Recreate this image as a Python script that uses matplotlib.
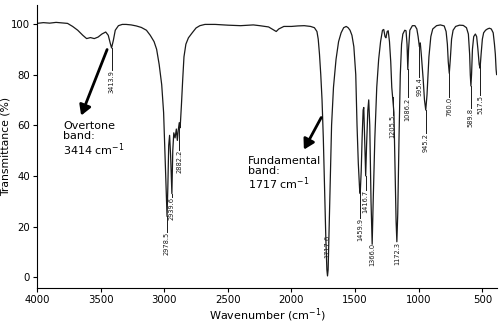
import matplotlib
matplotlib.use("Agg")
import matplotlib.pyplot as plt
import numpy as np

# IR spectrum (wavenumber cm-1, transmittance %)
wavenumber = [
    4000, 3950, 3900, 3850, 3800, 3760, 3720, 3680, 3640, 3610, 3580, 3550,
    3520, 3490, 3460, 3440, 3425, 3414, 3400, 3385, 3360, 3330, 3300, 3260,
    3220, 3180, 3140, 3110, 3080, 3060, 3040, 3020, 3005, 2995, 2985, 2978,
    2972, 2965, 2958, 2950, 2940, 2933, 2925, 2915, 2905, 2897, 2890, 2882,
    2875, 2865, 2855, 2845, 2830, 2810, 2780, 2750, 2720, 2680, 2600, 2500,
    2400, 2300, 2250, 2180, 2140, 2120, 2100, 2060, 2000, 1950, 1900, 1850,
    1820, 1800, 1790, 1780, 1770, 1760, 1750, 1740, 1730, 1722, 1717, 1712,
    1705, 1695, 1685, 1670, 1650, 1630, 1610, 1590, 1570, 1555, 1540, 1525,
    1510, 1495, 1485, 1475, 1465, 1460, 1452, 1445, 1437, 1432, 1425, 1417,
    1410, 1400, 1393, 1385, 1375, 1366, 1358, 1345, 1330, 1315, 1300, 1285,
    1275, 1265, 1258, 1248, 1240, 1230, 1220, 1212, 1205, 1195, 1185, 1178,
    1172, 1165, 1155, 1145, 1135, 1125, 1110, 1100, 1092, 1086, 1080, 1070,
    1050, 1030, 1015, 1005, 995, 988, 980, 965, 955, 945, 935, 920,
    905, 890, 860, 830, 800, 785, 775, 768, 760, 752, 742, 730,
    710, 680, 650, 625, 610, 600, 595, 590, 585, 578, 568, 555,
    545, 535, 525, 518, 510, 500, 490, 475, 460, 445, 430, 415,
    405, 398, 392, 388,
]
transmittance = [
    100.2, 100.5, 100.3, 100.6, 100.4, 100.2, 99.0, 97.5, 95.5, 94.2, 94.6, 94.2,
    94.8, 96.0, 96.8, 95.5, 92.5, 90.5, 93.5, 97.5, 99.3, 99.8, 99.8, 99.6,
    99.2, 98.6, 97.5, 95.5, 93.0, 90.0, 84.0, 76.0, 65.0, 50.0, 35.0, 24.0,
    35.0, 52.0, 56.0, 48.0, 33.0, 50.0, 57.0, 55.0, 58.5, 54.0, 58.0, 61.0,
    59.0, 68.0, 78.0, 87.0, 92.0, 94.5, 96.5, 98.4, 99.3, 99.8, 99.8, 99.5,
    99.3, 99.6, 99.3, 98.8, 97.6, 97.0, 98.0, 99.0, 99.0, 99.2, 99.3, 99.0,
    98.5, 97.0, 94.0, 88.0, 80.0, 70.0, 55.0, 35.0, 15.0, 3.0, 0.5, 3.0,
    18.0, 40.0, 60.0, 75.0, 86.0, 93.0, 96.5, 98.5, 99.0, 98.5, 97.5, 95.5,
    91.0, 80.0, 60.0, 45.0, 35.0, 33.0, 42.0, 55.0, 66.0, 67.0, 55.0, 40.0,
    52.0, 66.0, 70.0, 60.0, 30.0, 13.0, 30.0, 55.0, 75.0, 86.0, 93.0, 97.5,
    97.8, 95.0, 94.5, 97.0, 97.3, 93.0, 85.0, 75.0, 71.0, 65.0, 40.0, 22.0,
    14.0, 25.0, 55.0, 80.0, 92.0, 96.0, 97.5, 97.3, 92.0, 82.0, 90.0, 97.5,
    99.3, 99.3, 98.0, 95.0, 91.0, 92.5, 88.0, 78.0, 70.0, 66.0, 72.0, 87.0,
    95.0, 98.0, 99.3, 99.6, 99.2, 97.0, 92.0, 85.0, 80.5, 86.0, 94.0, 97.5,
    99.0, 99.5, 99.4, 98.5, 96.0, 88.0, 80.0, 75.5, 80.0, 90.0, 95.0, 96.0,
    95.0, 90.0, 84.0, 82.5, 88.0, 94.0, 96.5, 97.5, 98.0, 98.3, 98.0, 96.5,
    92.0, 88.0, 82.0, 80.0,
]

# peak labels: text, position, tip of the leader line, top of the text
peak_labels = ["3413.9", "2978.5", "2939.6", "2882.2", "1717.6", "1459.9",
               "1416.7", "1366.0", "1205.5", "1172.3", "1086.2", "995.4",
               "945.2", "760.0", "589.8", "517.5"]
peak_wn = [3413.9, 2978.5, 2939.6, 2882.2, 1717.6, 1459.9, 1416.7, 1366.0,
           1205.5, 1172.3, 1086.2, 995.4, 945.2, 760.0, 589.8, 517.5]
peak_tip = [90.5, 24.0, 33.0, 61.0, 16.6, 33.0, 40.0, 13.4, 71.0, 14.0,
            82.0, 91.0, 66.0, 80.5, 75.5, 82.5]
label_top = [81.8, 17.8, 31.6, 50.2, 16.6, 23.3, 34.4, 13.4, 64.0, 13.8,
             71.0, 79.0, 57.0, 71.0, 66.8, 72.0]

fig = plt.figure(figsize=(5, 3.27), dpi=100)
ax = fig.add_axes([0.074, 0.119, 0.92, 0.866])

ax.plot(wavenumber, transmittance, color="#1a1a1a", lw=0.9)

for txt, wn, tip, top in zip(peak_labels, peak_wn, peak_tip, label_top):
    if tip > top:
        ax.plot([wn, wn], [tip, top], color="#1a1a1a", lw=0.7)
    ax.text(wn, top, txt, rotation=90, ha="center", va="top",
            fontsize=4.8, color="#1a1a1a")

# annotations
ax.annotate("", xy=(3661, 62.8), xytext=(3441, 90.9),
            arrowprops=dict(arrowstyle="-|>,head_length=0.6,head_width=0.35",
                            color="black", lw=2))
ax.text(3795, 61.5, "Overtone\nband:\n3414 cm$^{-1}$", fontsize=8,
        ha="left", va="top", linespacing=1.0)
ax.annotate("", xy=(1913, 49.4), xytext=(1756, 64.0),
            arrowprops=dict(arrowstyle="-|>,head_length=0.6,head_width=0.35",
                            color="black", lw=2))
ax.text(2339, 48.0, "Fundamental\nband:\n1717 cm$^{-1}$", fontsize=8,
        ha="left", va="top", linespacing=1.0)

ax.set_xlim(4000, 385)
ax.set_ylim(-4.3, 107.5)
ax.set_xticks([4000, 3500, 3000, 2500, 2000, 1500, 1000, 500])
ax.set_yticks([0, 20, 40, 60, 80, 100])
ax.tick_params(labelsize=7.3, length=3, width=0.8, pad=2)
ax.spines["top"].set_visible(False)
ax.spines["right"].set_visible(False)
ax.set_xlabel("Wavenumber (cm$^{-1}$)", fontsize=8, labelpad=1)
ax.set_ylabel("Transmittance (%)", fontsize=7.8)
ax.yaxis.set_label_coords(-0.058, 0.5)

fig.savefig("out.png", dpi=100)
